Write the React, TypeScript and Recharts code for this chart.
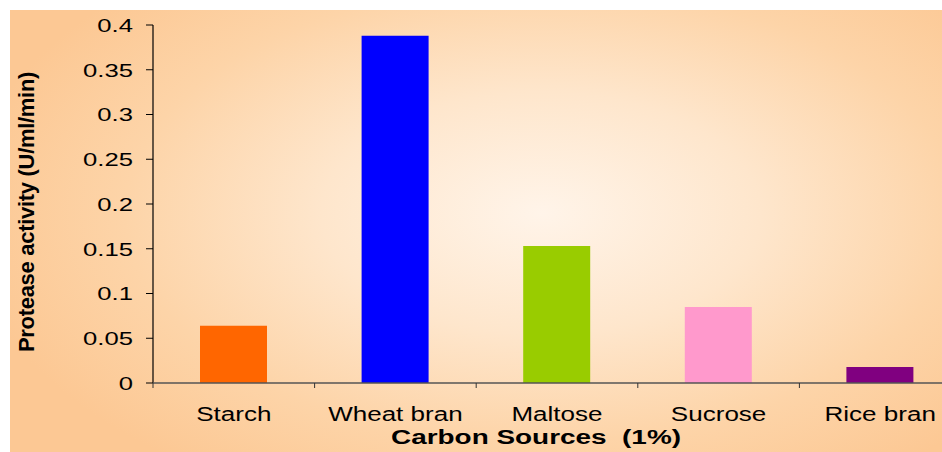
import React from 'react';
import { BarChart, Bar, XAxis, YAxis, Cell, Label } from 'recharts';

const categories = ['Starch', 'Wheat bran', 'Maltose', 'Sucrose', 'Rice bran'];
const activity = [0.064, 0.388, 0.153, 0.085, 0.018];
const barColors = ['#FF6600', '#0000FF', '#99CC00', '#FF99CC', '#800080'];
const yTicks = [0, 0.05, 0.1, 0.15, 0.2, 0.25, 0.3, 0.35, 0.4];

const data = categories.map((name, i) => ({ name, value: activity[i] }));

const FONT = '"Liberation Sans", Arial, sans-serif';
const BAND = 808 / categories.length;

const XTick = (props: any) => {
  const { x, y, payload } = props;
  return (
    <g>
      <line x1={x - BAND / 2} y1={y} x2={x - BAND / 2} y2={y + 5} stroke="#333" />
      <g transform={`translate(${x},${y + 38})`}>
        <text transform="scale(1.24,1)" textAnchor="middle" fontSize={21} fontFamily={FONT} fill="#000">
          {payload.value}
        </text>
      </g>
    </g>
  );
};

const YTick = (props: any) => {
  const { x, y, payload } = props;
  return (
    <g>
      <line x1={x - 7} y1={y} x2={x} y2={y} stroke="#000" />
      <g transform={`translate(${x - 20},${y})`}>
        <text transform="scale(1.35,1)" textAnchor="end" dy="0.36em" fontSize={19} fontFamily={FONT} fill="#000">
          {payload.value}
        </text>
      </g>
    </g>
  );
};

const YTitle = (props: any) => {
  const vb = props.viewBox;
  const cx = 16;
  const cy = vb.y + vb.height / 2 + 8;
  return (
    <text
      x={cx}
      y={cy}
      transform={`rotate(-90,${cx},${cy})`}
      textAnchor="middle"
      dominantBaseline="central"
      fontSize={22}
      fontWeight="bold"
      fontFamily={FONT}
      letterSpacing={-0.3}
      fill="#000"
    >
      Protease activity (U/ml/min)
    </text>
  );
};

const XTitle = (props: any) => {
  const vb = props.viewBox;
  return (
    <g transform={`translate(${vb.x + 383},${vb.y + 61})`}>
      <text transform="scale(1.33,1)" textAnchor="middle" fontSize={21} fontWeight="bold" fontFamily={FONT} fill="#000" xmlSpace="preserve">
        Carbon Sources  (1%)
      </text>
    </g>
  );
};

const App = () => {
  return (
    <div
      style={{
        position: 'absolute',
        left: 10,
        top: 10,
        width: 932,
        height: 442,
        overflow: 'hidden',
        background:
          'radial-gradient(ellipse 62% 72% at 57% 46%, #fff4e9 0%, #fee6cc 38%, #fdd4a8 72%, #fcc894 100%)',
      }}
    >
      <BarChart width={951} height={442} data={data} margin={{ top: 15, right: 0, left: 0, bottom: 0 }}>
        <YAxis
          width={143}
          domain={[0, 0.4]}
          ticks={yTicks}
          interval={0}
          tickLine={false}
          tickSize={0}
          tickMargin={0}
          axisLine={{ stroke: '#000', strokeWidth: 1.2 }}
          tick={<YTick />}
        >
          <Label content={<YTitle />} />
        </YAxis>
        <XAxis
          dataKey="name"
          height={69}
          interval={0}
          tickLine={false}
          tickSize={0}
          tickMargin={0}
          axisLine={{ stroke: '#555', strokeWidth: 1.6 }}
          tick={<XTick />}
        >
          <Label content={<XTitle />} />
        </XAxis>
        <Bar dataKey="value" barSize={67} isAnimationActive={false}>
          {data.map((d, i) => (
            <Cell key={d.name} fill={barColors[i]} />
          ))}
        </Bar>
      </BarChart>
    </div>
  );
};

export default App;
